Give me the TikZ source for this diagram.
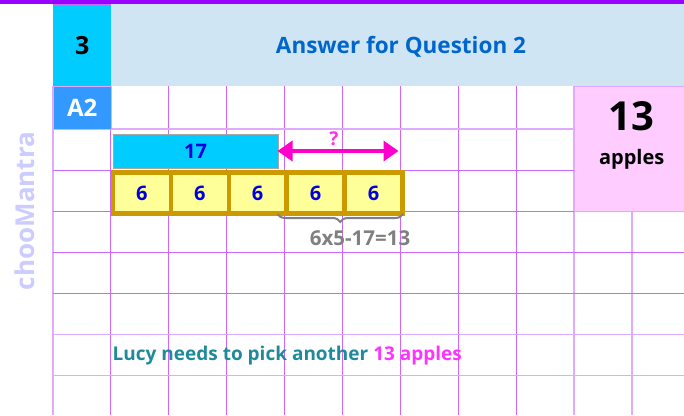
\documentclass[tikz,border=0pt]{standalone}
\usepackage{fontspec}
\setmainfont{Open Sans}
\usetikzlibrary{arrows.meta,decorations.pathreplacing}
\definecolor{gridc}{HTML}{CC66FF}
\definecolor{gridl}{HTML}{E0AAFF}
\definecolor{topbar}{HTML}{9900FF}
\definecolor{cyanc}{HTML}{00CCFF}
\definecolor{headc}{HTML}{CFE5F3}
\definecolor{titlec}{HTML}{0066CC}
\definecolor{a2c}{HTML}{3399FF}
\definecolor{pinkc}{HTML}{FFCCFF}
\definecolor{boxf}{HTML}{FFFF99}
\definecolor{boxd}{HTML}{CC9900}
\definecolor{numc}{HTML}{0000DD}
\definecolor{magc}{HTML}{FF00CC}
\definecolor{qc}{HTML}{FF33DD}
\definecolor{tealc}{HTML}{1F8A9A}
\definecolor{pinkt}{HTML}{FF33FF}
\definecolor{wmc}{HTML}{CCCCFF}
\tikzset{
  gline/.style={draw=gridc, line width=1pt},
  lline/.style={draw=gridl, line width=1.5pt},
  unitbox/.style={draw=boxd, fill=boxf, line width=4.5pt},
  numtxt/.style={font=\bfseries\fontsize{20}{20}\selectfont, text=numc},
}
\begin{document}
\begin{tikzpicture}[x=1pt,y=-1pt]
\useasboundingbox (0,0) rectangle (684,415);
\fill[white] (0,0) rectangle (684,415);
% grid
\foreach \x in {110.7,168.6,226.5,284.4,342.3,400.2,458.1,516.0}
  \draw[gline] (\x,85.7) -- (\x,415);
\foreach \x in {573.9,631.8}
  \draw[lline] (\x,85.7) -- (\x,415);
\draw[lline] (53,85.7) -- (53,415);
\foreach \y in {170,211.3,252.4,293.4}
  \draw[gline] (53,\y) -- (684,\y);
\foreach \y in {129,334.5,375.6}
  \draw[lline] (53,\y) -- (684,\y);
% top bar
\fill[topbar] (0,0) rectangle (684,4);
% header
\node[fill=cyanc, draw=gridc, line width=0.6pt, minimum width=57.7pt, minimum height=81.7pt, inner sep=0pt, anchor=north west,
  font=\bfseries\fontsize{25}{25}\selectfont] (num) at (53,4) {3};
\node[fill=headc, minimum width=573.3pt, minimum height=81.7pt, inner sep=0pt, anchor=north west] (head) at (110.7,4) {};
\node[text=titlec, font=\bfseries\fontsize{22.5}{22.5}\selectfont] (title) at (401,47) {Answer for Question 2};
% A2
\node[fill=a2c, draw=gridl, line width=0.8pt, minimum width=57.7pt, minimum height=43.3pt, inner sep=0pt, anchor=north west,
  text=white, font=\bfseries\fontsize{24}{24}\selectfont] (a2) at (53,85.7) {A2};
% pink answer box
\node[fill=pinkc, draw=gridl, line width=1pt, minimum width=112pt, minimum height=125.6pt, inner sep=0pt, anchor=north west] (ans) at (573.9,85.7) {};
\node[font=\bfseries\fontsize{40}{40}\selectfont] (ansnum) at (631.7,116.5) {13};
\node[font=\bfseries\fontsize{20}{20}\selectfont] (answord) at (631.7,159) {apples};
% watermark
\node[rotate=90, text=wmc, font=\bfseries\fontsize{26}{26}\selectfont] (wm) at (25,211) {chooMantra};
% 17 box
\node[fill=cyanc, draw=gray!70, line width=0.6pt, minimum width=165.3pt, minimum height=34pt, inner sep=0pt, anchor=north west] (seventeen) at (112.7,134) {};
\node[numtxt] at (seventeen.center) {17};
% unit boxes
\foreach \i in {0,...,4} {
  \node[unitbox, minimum width=57.9pt, minimum height=41.3pt, inner sep=0pt, anchor=north west, numtxt] (u\i) at ({110.7+57.9*\i},170) {6};
}
% arrow
\coordinate (al) at (277.5,151);
\coordinate (ar) at (398.5,151);
\draw[magc, line width=3.6pt, {Triangle[length=15pt,width=20pt]}-{Triangle[length=15pt,width=20pt]}] (al) -- (ar);
\node[text=qc, font=\bfseries\fontsize{19}{19}\selectfont] (q) at (334,139) {?};
% brace
\coordinate (bl) at (277.5,214);
\coordinate (br) at (403,214);
\draw[gray, line width=2pt, decorate, decoration={brace, mirror, amplitude=8pt}] (bl) -- (br);
\node[text=gray, font=\bfseries\fontsize{20.5}{20.5}\selectfont] (calc) at (360,238) {6x5-17=13};
% bottom sentence
\node[anchor=west, text=tealc, font=\bfseries\fontsize{19}{19}\selectfont, inner sep=0pt] (sent) at (112.5,356) {Lucy needs to pick another \textcolor{pinkt}{13 apples}};
\end{tikzpicture}
\end{document}
